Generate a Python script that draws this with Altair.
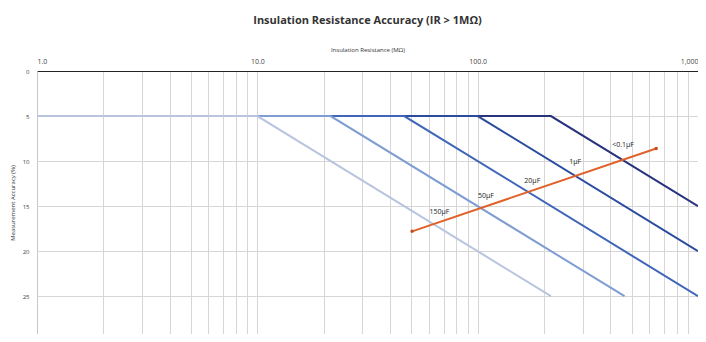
import altair as alt
import pandas as pd

# Series: flat 5% until breakpoint, then rising
series_names = ["<0.1µF", "1µF", "20µF", "50µF", "150µF"]
series_x = [
    [1, 215, 1000],
    [1, 100, 1000],
    [1, 46.4, 1000],
    [1, 21.5, 464],
    [1, 10, 215],
]
series_y = [
    [5, 5, 15],
    [5, 5, 20],
    [5, 5, 25],
    [5, 5, 25],
    [5, 5, 25],
]
series_colors = ["#28337e", "#2b4c9e", "#3f66b8", "#7f9dd3", "#b9c5de"]

orange_x = [50.4, 646]
orange_y = [17.8, 8.6]

label_text = ["<0.1µF", "1µF", "20µF", "50µF", "150µF"]
label_x = [457, 277, 177, 109, 67]
label_y = [8.2, 10.1, 12.2, 13.9, 15.6]

x_grid = [m * 10 ** k for k in range(3) for m in range(1, 10)] + [1000]
y_ticks = [0, 5, 10, 15, 20, 25]

rows = []
for i, name in enumerate(series_names):
    for j, (xv, yv) in enumerate(zip(series_x[i], series_y[i])):
        rows.append({"series": name, "order": i, "pt": j, "x": xv, "y": yv})
df = pd.DataFrame(rows)
df_orange = pd.DataFrame({"x": orange_x, "y": orange_y, "pt": [0, 1]})
df_labels = pd.DataFrame({"t": label_text, "x": label_x, "y": label_y})

xscale = alt.Scale(type="log", domain=[1, 1000])
yscale = alt.Scale(domain=[0, 29.2], reverse=True, nice=False)

xaxis = alt.Axis(
    orient="top", values=x_grid, title="Insulation Resistance (MΩ)",
    labelExpr="datum.value == 1 ? '1.0' : datum.value == 10 ? '10.0' : datum.value == 100 ? '100.0' : datum.value == 1000 ? '1,000' : ''",
    titleFontSize=6, titleFontWeight="normal", titleColor="#333", titlePadding=5,
    labelFontSize=7, labelColor="#444", labelFont="Open Sans", titleFont="Open Sans",
    gridColor="#d6d6d6", gridWidth=1, domainColor="#222", domainWidth=1.2,
    ticks=False, labelPadding=7,
)
yaxis = alt.Axis(
    values=y_ticks, title="Measurement Accuracy (%)", titleFontSize=6,
    titleFontWeight="normal", titleColor="#333", labelFontSize=6, labelColor="#444",
    labelFont="Open Sans", titleFont="Open Sans", gridColor="#d6d6d6",
    domainColor="#c8c8c8", ticks=False, labelPadding=8, titlePadding=7,
)

lines = alt.Chart(df).mark_line(strokeWidth=2).encode(
    x=alt.X("x:Q", scale=xscale, axis=xaxis),
    y=alt.Y("y:Q", scale=yscale, axis=yaxis),
    color=alt.Color("series:N", scale=alt.Scale(domain=series_names, range=series_colors), legend=None),
    order="pt:O",
    detail="order:O",
)

orange = alt.Chart(df_orange).mark_line(strokeWidth=2, color="#e0622a", point=alt.OverlayMarkDef(color="#c84a18", size=12)).encode(
    x=alt.X("x:Q", scale=xscale),
    y=alt.Y("y:Q", scale=yscale),
    order="pt:O",
)

labels = alt.Chart(df_labels).mark_text(fontSize=7, color="#222", font="Open Sans").encode(
    x=alt.X("x:Q", scale=xscale),
    y=alt.Y("y:Q", scale=yscale),
    text="t:N",
)

chart = alt.layer(lines, orange, labels).properties(
    width=661, height=263,
    autosize=alt.AutoSizeParams(type="none"),
    padding={"left": 29, "top": 63, "right": 0, "bottom": 0},
    title=alt.TitleParams("Insulation Resistance Accuracy (IR > 1MΩ)", fontSize=11,
                          font="Open Sans", fontWeight="bold", color="#333", offset=20, anchor="middle"),
).configure_view(stroke=None)

chart.save("out.html", embed_options={"renderer": "svg", "actions": False})
